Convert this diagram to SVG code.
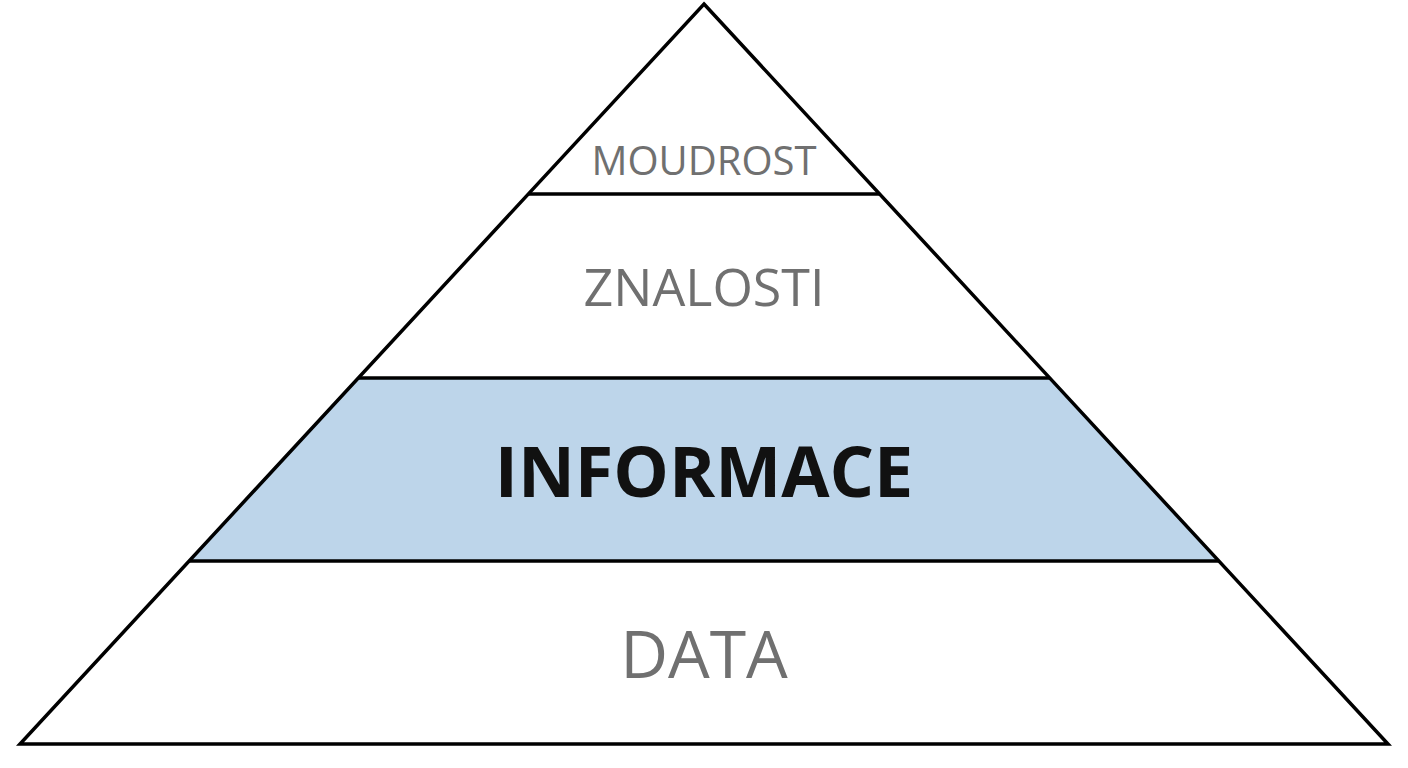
<svg xmlns="http://www.w3.org/2000/svg" width="1408" height="768" viewBox="0 0 1408 768">
<style>
.l{font-family:"Open Sans","Liberation Sans",sans-serif;fill:#707070;text-anchor:middle}
.s{stroke:#000;stroke-width:3.5;fill:none;stroke-linejoin:miter}
</style>
<rect width="1408" height="768" fill="#fff"/>
<g id="informace"><polygon points="358.3,378 1049.7,378 1218.8,561 189.2,561" fill="#bdd5ea"/>
<text x="704" y="497" class="l" style="fill:#111;font-weight:bold;font-size:70px">INFORMACE</text></g>
<g id="moudrost"><text x="704" y="175" class="l" style="font-size:40px">MOUDROST</text></g>
<g id="znalosti"><text x="704" y="306" class="l" style="font-size:52px">ZNALOSTI</text></g>
<g id="data"><text x="704" y="678" class="l" style="font-size:66px">DATA</text></g>
<g id="lines">
<polygon class="s" points="704,4 1388,744 20,744"/>
<line class="s" x1="528.4" y1="194" x2="879.6" y2="194"/>
<line class="s" x1="358.3" y1="378" x2="1049.7" y2="378"/>
<line class="s" x1="189.2" y1="561" x2="1218.8" y2="561"/>
</g>
</svg>
